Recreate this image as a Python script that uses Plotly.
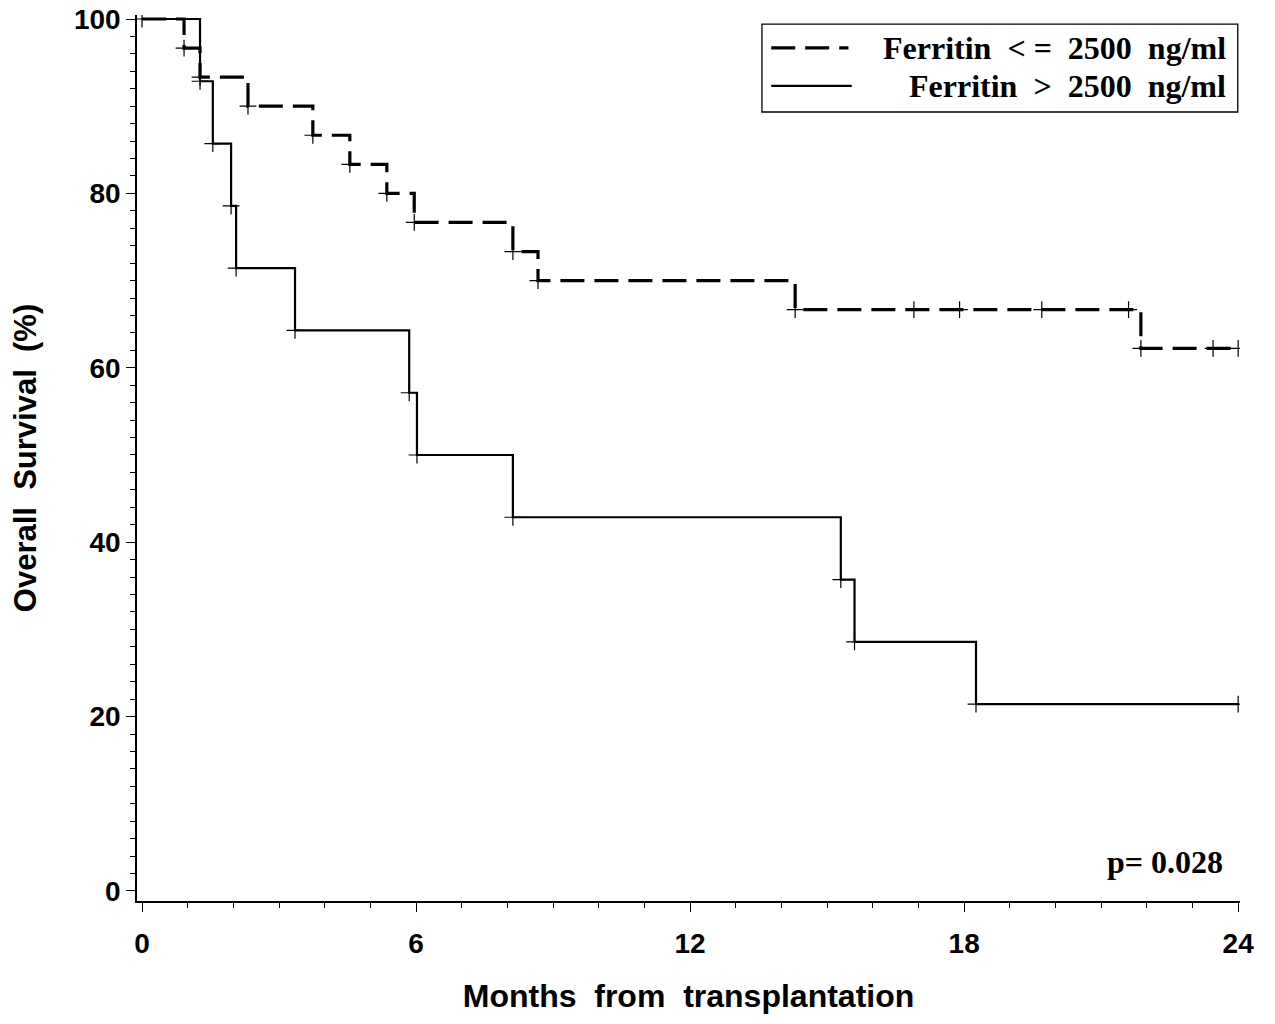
import plotly.graph_objects as go

# Ferritin <= 2500 ng/ml (dashed)
low_time = [0, 0.92, 1.27, 2.32, 3.74, 4.55, 5.36, 5.96, 8.12, 8.67, 14.3, 21.87, 24]
low_surv = [100, 96.67, 93.33, 90.0, 86.67, 83.33, 80.0, 76.67, 73.33, 70.0, 66.67, 62.22, 62.22]
low_cens_time = [0, 0.92, 1.27, 2.32, 3.74, 4.55, 5.36, 5.96, 8.12, 8.67, 14.3, 16.9, 17.9, 19.7, 21.6, 21.87, 23.45, 24]
low_cens_surv = [100, 96.67, 93.33, 90.0, 86.67, 83.33, 80.0, 76.67, 73.33, 70.0, 66.67, 66.67, 66.67, 66.67, 66.67, 62.22, 62.22, 62.22]

# Ferritin > 2500 ng/ml (solid)
high_time = [0, 1.27, 1.55, 1.95, 2.06, 3.35, 5.85, 6.02, 8.12, 15.3, 15.6, 18.26, 24]
high_surv = [100, 92.86, 85.71, 78.57, 71.43, 64.29, 57.14, 50.0, 42.86, 35.71, 28.57, 21.43, 21.43]
high_cens_time = [1.27, 1.55, 1.95, 2.06, 3.35, 5.85, 6.02, 8.12, 15.3, 15.6, 18.26, 24]
high_cens_surv = [92.86, 85.71, 78.57, 71.43, 64.29, 57.14, 50.0, 42.86, 35.71, 28.57, 21.43, 21.43]

x_ticks = [0, 6, 12, 18, 24]
y_ticks = [0, 20, 40, 60, 80, 100]
NB = "\u00a0"
legend_labels = ["Ferritin" + NB * 2 + "<" + NB + "=" + NB * 2 + "2500" + NB * 2 + "ng/ml",
                 "Ferritin" + NB * 2 + ">" + NB * 2 + "2500" + NB * 2 + "ng/ml"]
p_text = "p=" + NB + "0.028"
x_title = "Months" + NB * 2 + "from" + NB * 2 + "transplantation"
y_title = "Overall" + NB * 2 + "Survival" + NB * 2 + "(%)"

fig = go.Figure()
fig.add_trace(go.Scatter(x=low_time, y=low_surv, mode="lines", line_shape="hv",
                         line=dict(color="black", width=3.2, dash="24px,10px"), showlegend=False))
fig.add_trace(go.Scatter(x=high_time, y=high_surv, mode="lines", line_shape="hv",
                         line=dict(color="black", width=2.2), showlegend=False))
cross = dict(symbol="cross-thin", size=12, color="black", line=dict(color="black", width=1.2))
fig.add_trace(go.Scatter(x=low_cens_time, y=low_cens_surv, mode="markers", marker=cross, showlegend=False))
fig.add_trace(go.Scatter(x=high_cens_time, y=high_cens_surv, mode="markers", marker=cross, showlegend=False))

axis_font = dict(family="Liberation Sans", size=28, color="black")
fig.update_xaxes(range=[-0.11, 24.04], tickvals=x_ticks, ticktext=["<b>%d</b>" % v for v in x_ticks],
                 showline=True, linecolor="black", linewidth=1.5, ticks="outside", ticklen=9,
                 tickwidth=1.3, tickcolor="black", showgrid=False, zeroline=False,
                 tickfont=axis_font, ticklabelstandoff=8, ticklabeloverflow="allow",
                 minor=dict(dtick=1, tick0=0, ticks="outside", ticklen=5, tickcolor="black", tickwidth=1),
                 title=dict(text="<b>" + x_title + "</b>",
                            font=dict(family="Liberation Sans", size=32, color="black"), standoff=26))
fig.update_yaxes(range=[-1.15, 100.46], tickvals=y_ticks, ticktext=["<b>%d</b>" % v for v in y_ticks],
                 showline=True, linecolor="black", linewidth=1.5, ticks="outside", ticklen=9,
                 tickwidth=1.3, tickcolor="black", showgrid=False, zeroline=False,
                 tickfont=axis_font, ticklabeloverflow="allow",
                 minor=dict(dtick=2, tick0=0, ticks="outside", ticklen=5, tickcolor="black", tickwidth=1),
                 title=dict(text="<b>" + y_title + "</b>",
                            font=dict(family="Liberation Sans", size=31, color="black"), standoff=28))

# legend box (paper coords)
fig.add_shape(type="rect", xref="paper", yref="paper", x0=0.5666, x1=0.998, y0=0.8905, y1=0.9898,
              line=dict(color="black", width=1.3), fillcolor="white", layer="below")
fig.add_shape(type="line", xref="paper", yref="paper", x0=0.575, x1=0.645, y0=0.963, y1=0.963,
              line=dict(color="black", width=3.2, dash="24px,10px"))
fig.add_shape(type="line", xref="paper", yref="paper", x0=0.575, x1=0.648, y0=0.92, y1=0.92,
              line=dict(color="black", width=2.2))
leg_font = dict(family="Liberation Serif", size=32, color="black")
fig.add_annotation(xref="paper", yref="paper", x=0.989, y=0.963, xanchor="right", yanchor="middle",
                   text="<b>" + legend_labels[0] + "</b>", showarrow=False, font=leg_font)
fig.add_annotation(xref="paper", yref="paper", x=0.989, y=0.92, xanchor="right", yanchor="middle",
                   text="<b>" + legend_labels[1] + "</b>", showarrow=False, font=leg_font)
fig.add_annotation(xref="paper", yref="paper", x=0.986, y=0.044, xanchor="right", yanchor="middle",
                   text="<b>" + p_text + "</b>", showarrow=False,
                   font=dict(family="Liberation Serif", size=32, color="black"))

fig.update_layout(width=1275, height=1024, plot_bgcolor="white", paper_bgcolor="white",
                  margin=dict(l=137, r=35, t=15, b=123, autoexpand=False), showlegend=False)
fig.write_html("out.html", config={"displayModeBar": False},
               post_script="document.body.style.margin='0px';")
